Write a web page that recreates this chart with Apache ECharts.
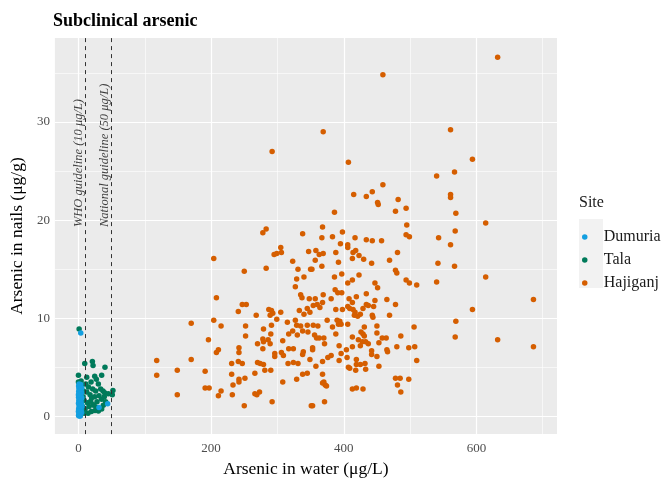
<!DOCTYPE html>
<html>
<head>
<meta charset="utf-8">
<script src="https://cdn.jsdelivr.net/npm/echarts@6/dist/echarts.min.js"></script>
<style>
html,body{margin:0;padding:0;background:#fff;}
#main{width:670px;height:483px;}
</style>
</head>
<body>
<div id="main"></div>
<script>
// sites + colours
var siteNames = ['Dumuria', 'Tala', 'Hajiganj'];
var siteColors = ['#139FE0', '#007A5A', '#D55E00'];

// axis ticks
var xTicks = [0, 200, 400, 600];
var yTicks = [0, 10, 20, 30];
var xMinor = [100, 300, 500, 700];
var yMinor = [5, 15, 25, 35];

// guideline lines (water arsenic, ug/L)
var guidelines = [10, 50];
var guidelineLabels = ['WHO guideline (10 μg/L)', 'National guideline (50 μg/L)'];
var guidelineLabelY = 20;

// [arsenic in water, arsenic in nails]
var dumuria = [
    [0.2,0.1],[1.1,0.2],[2.4,0.15],[3.6,0.3],[0.5,0.4],[1.8,0.5],[3.0,0.55],[4.2,0.6],
    [0.3,0.75],[1.4,0.8],[2.6,0.9],[3.9,0.95],[0.8,1.05],[2.0,1.1],[3.3,1.2],[4.5,1.25],
    [0.1,1.35],[1.2,1.4],[2.7,1.5],[3.8,1.55],[0.6,1.65],[1.9,1.7],[3.1,1.8],[4.3,1.85],
    [0.2,1.95],[1.5,2.0],[2.5,2.1],[3.7,2.15],[0.9,2.25],[2.1,2.3],[3.4,2.4],[4.6,2.45],
    [0.4,2.55],[1.6,2.6],[2.8,2.7],[4.0,2.75],[0.7,2.85],[1.9,2.9],[3.2,3.0],[0.3,3.1],
    [1.3,3.15],[2.4,3.2],[3.5,3.25],[0.9,3.3],[1.0,0.05],[2.9,0.05],[4.8,0.4],[5.2,1.0],
    [5.0,1.9],[4.9,2.9],[0.0,2.2],[0.0,0.5],[31,0.9],[44,1.3],[3.5,8.5]
];
var tala = [
    [1,8.9],[9.5,5.4],[21,5.6],[22,5.2],[40,5.0],[0,4.2],[12.5,4.0],[24.5,4.1],[35,4.2],
    [0,3.5],[5,3.1],[11,3.3],[19,3.5],[7.5,2.6],[12.5,2.5],[21.5,2.8],[26,2.6],[33.5,2.8],
    [37,2.6],[39.5,2.4],[52,2.65],[51,2.2],[17.5,2.2],[20,1.9],[24.5,2.0],[31,2.1],[35,1.75],
    [39,2.0],[41,1.5],[8.5,1.65],[13.5,1.4],[18.5,1.55],[23.5,1.15],[27.5,0.9],[25,0.6],
    [16,1.0],[19.5,0.5],[14.5,0.33],[10,0.76],[9,0.33],[37.5,1.15],[35,0.76],[30,0.56],
    [6,1.0],[7,2.0],[28,1.5],[15,3.0],[30,3.3],[45,2.3],[4,3.6],[6,0.5],[22,1.2],[27,3.8]
];
var hajiganj = [
    [292,27.0],[283,19.1],[278,18.7],[338,18.6],[204,16.1],[305,17.2],[295,16.5],[299,16.6],
    [306,16.7],[347,16.8],[323,15.8],[250,14.8],[283,15.1],[331,15.0],[329,14.0],[340,14.2],
    [327,13.2],[350,15.0],[208,12.1],[335,12.4],[337,12.1],[348,12.0],[241,10.7],[247,11.4],
    [253,11.4],[287,10.9],[291,10.8],[293,10.5],[289,10.3],[305,10.6],[299,9.9],[268,10.3],
    [333,10.8],[345,11.0],[340,10.4],[349,10.6],[204,9.8],[170,9.5],[215,9.2],[252,9.2],
    [291,9.3],[315,9.6],[327,9.8],[329,9.3],[335,9.2],[338,8.7],[345,9.3],[346,8.6],
    [279,8.9],[290,8.4],[252,8.2],[317,8.4],[323,8.7],[330,8.3],[196,7.8],[278,7.9],
    [279,7.6],[286,7.8],[308,7.7],[270,7.4],[289,7.4],[278,6.9],[242,7.0],[242,6.5],
    [211,6.8],[208,6.5],[317,6.9],[324,6.9],[296,6.4],[296,6.1],[306,6.5],[309,6.2],
    [339,6.6],[338,6.3],[118,5.7],[170,5.8],[349,5.8],[231,5.4],[241,5.6],[247,5.4],
    [270,5.5],[274,5.4],[279,5.3],[316,5.4],[324,5.5],[331,5.4],[149,4.7],[191,4.6],
    [118,4.2],[231,4.3],[266,4.4],[281,4.7],[290,4.7],[251,3.9],[242,3.8],[242,3.5],
    [329,3.8],[338,4.3],[345,4.4],[308,3.5],[233,3.2],[191,2.9],[197,2.9],[215,2.6],
    [149,2.2],[211,2.1],[232,2.2],[266,2.3],[269,2.2],[273,2.5],[292,1.5],[250,1.1],[351,1.1],
    [369,29.0],[407,25.9],[459,23.6],[415,22.6],[434,22.4],[443,22.9],[451,21.8],[452,21.6],
    [482,22.1],[386,20.8],[478,20.9],[494,21.2],[495,19.5],[494,18.5],[499,18.3],[368,19.3],
    [367,18.2],[383,18.3],[398,18.8],[417,18.2],[434,18.0],[443,17.9],[457,17.9],[406,17.5],
    [406,17.2],[395,17.6],[358,16.9],[363,16.5],[369,16.6],[388,16.7],[414,16.7],[418,16.9],
    [357,15.9],[367,15.3],[392,15.7],[413,16.1],[423,16.4],[430,16.0],[442,15.6],[481,16.7],
    [469,15.9],[352,15.0],[397,14.5],[386,14.2],[413,13.9],[406,13.6],[423,14.4],[478,14.9],
    [480,14.6],[494,13.9],[499,13.6],[510,13.4],[447,13.6],[451,13.1],[387,12.9],[391,12.6],
    [397,12.6],[369,12.4],[381,12.0],[357,12.0],[364,11.1],[368,11.6],[408,12.0],[413,11.6],
    [419,12.2],[434,12.5],[447,11.8],[445,11.2],[434,11.4],[437,11.3],[465,11.9],[478,11.4],
    [354,11.3],[360,11.4],[388,10.9],[398,10.9],[406,11.2],[409,11.0],[414,10.9],[417,10.6],
    [416,10.3],[421,10.2],[425,10.4],[429,11.0],[443,10.3],[444,10.1],[469,10.3],[375,9.8],
    [390,9.8],[394,9.7],[396,9.4],[392,9.4],[406,9.4],[388,8.4],[383,9.1],[361,9.2],
    [354,9.3],[356,8.3],[359,8.0],[363,8.0],[370,8.0],[371,7.4],[353,7.0],[353,6.8],
    [413,8.1],[431,9.1],[426,8.6],[429,8.4],[431,8.2],[422,7.8],[428,7.6],[433,7.6],
    [437,7.4],[450,9.2],[450,8.5],[458,8.0],[464,8.0],[453,7.5],[486,8.2],[506,9.1],
    [442,6.7],[442,6.3],[465,6.8],[466,6.6],[480,7.1],[498,7.0],[507,7.1],[510,5.7],
    [425,7.2],[413,7.1],[404,6.8],[393,7.2],[396,6.4],[381,6.2],[376,6.0],[368,5.6],
    [405,6.0],[393,5.7],[419,5.8],[419,5.3],[425,5.3],[432,5.4],[433,4.8],[418,4.7],
    [407,5.0],[409,4.9],[453,5.1],[450,6.1],[358,5.1],[368,4.3],[370,3.5],[372,3.2],
    [374,3.1],[368,3.4],[478,3.9],[485,3.9],[498,3.8],[481,3.2],[486,2.5],[413,2.8],
    [419,2.9],[429,2.8],[371,1.5],[353,1.1],[459,34.8],
    [632,36.6],[561,29.2],[594,26.2],[540,24.5],[567,24.9],[561,22.6],[561,22.3],[569,20.7],
    [614,19.7],[568,18.9],[543,18.2],[561,17.5],[542,15.6],[567,15.3],[614,14.2],[540,13.7],
    [686,11.9],[594,10.9],[569,9.7],[568,8.1],[632,7.8],[686,7.1]
];

function drawChart(){
    var myChart = echarts.init(document.getElementById('main'));
    var serif = 'Liberation Serif';

    // white panel grid, drawn under the points
    var gridLines = [];
    xTicks.forEach(function(v){ gridLines.push({xAxis: v, lineStyle: {color: '#fff', width: 1.2, type: 'solid'}}); });
    xMinor.forEach(function(v){ gridLines.push({xAxis: v, lineStyle: {color: '#fff', width: 0.6, type: 'solid'}}); });
    yTicks.forEach(function(v){ gridLines.push({yAxis: v, lineStyle: {color: '#fff', width: 1.2, type: 'solid'}}); });
    yMinor.forEach(function(v){ gridLines.push({yAxis: v, lineStyle: {color: '#fff', width: 0.6, type: 'solid'}}); });

    var siteData = [dumuria, tala, hajiganj];
    var pointSeries = [2, 1, 0].map(function(i){
        return {
            name: siteNames[i],
            type: 'scatter',
            data: siteData[i],
            symbolSize: 5.5,
            itemStyle: {color: siteColors[i], opacity: 1},
            z: 3
        };
    });

    var option = {
        animation: false,
        backgroundColor: '#fff',
        title: {
            text: 'Subclinical arsenic',
            left: 53, top: 12, padding: 0,
            textStyle: {fontFamily: serif, fontWeight: 'bold', fontSize: 18, color: '#000'}
        },
        grid: {left: 52, right: 113, top: 38, bottom: 40, show: true, backgroundColor: '#EBEBEB', borderWidth: 0},
        legend: {
            data: siteNames,
            orient: 'vertical',
            left: 577, top: 224,
            icon: 'circle',
            itemWidth: 28, itemHeight: 5.5,
            itemGap: 7,
            textStyle: {fontFamily: serif, fontSize: 16, color: '#1a1a1a'}
        },
        graphic: [
            {type: 'rect', left: 579, top: 219, shape: {width: 24, height: 69}, style: {fill: '#F2F2F2'}, z: -1},
            {type: 'text', left: 579, top: 195, style: {text: 'Site', font: '16px "Liberation Serif"', fill: '#1a1a1a'}}
        ],
        xAxis: {
            type: 'value', min: -35.5, max: 721.5,
            name: 'Arsenic in water (μg/L)', nameLocation: 'middle', nameGap: 24,
            nameTextStyle: {fontFamily: serif, fontSize: 17.5, color: '#000'},
            axisLine: {show: false},
            axisTick: {show: true, customValues: xTicks, length: 4, lineStyle: {color: '#333'}},
            axisLabel: {customValues: xTicks, fontFamily: serif, fontSize: 13, color: '#4D4D4D', margin: 8},
            splitLine: {show: false}
        },
        yAxis: {
            type: 'value', min: -1.8, max: 38.55,
            name: 'Arsenic in nails (μg/g)', nameLocation: 'middle', nameGap: 22,
            nameTextStyle: {fontFamily: serif, fontSize: 17.5, color: '#000'},
            axisLine: {show: false},
            axisTick: {show: true, customValues: yTicks, length: 4, lineStyle: {color: '#333'}},
            axisLabel: {customValues: yTicks, fontFamily: serif, fontSize: 13, color: '#4D4D4D', margin: 5},
            splitLine: {show: false}
        },
        series: [
            {
                type: 'scatter', data: [], silent: true,
                markLine: {silent: true, symbol: 'none', z: 1, label: {show: false}, data: gridLines}
            }
        ].concat(pointSeries).concat([
            {
                type: 'scatter', silent: true, symbolSize: 0, z: 6,
                data: guidelines.map(function(g){ return [g, guidelineLabelY]; }),
                label: {
                    show: true, position: 'inside', rotate: 90,
                    align: 'left', verticalAlign: 'bottom', offset: [-7, 0],
                    fontFamily: serif, fontStyle: 'italic', fontSize: 12.5, color: '#111',
                    formatter: function(p){ return guidelineLabels[p.dataIndex]; }
                },
                markLine: {
                    silent: true, symbol: 'none', z: 5, label: {show: false},
                    lineStyle: {color: '#333', width: 1, type: [4, 4]},
                    data: guidelines.map(function(g){ return {xAxis: g}; })
                }
            }
        ])
    };

    myChart.setOption(option);
}

drawChart();
</script>
</body>
</html>
